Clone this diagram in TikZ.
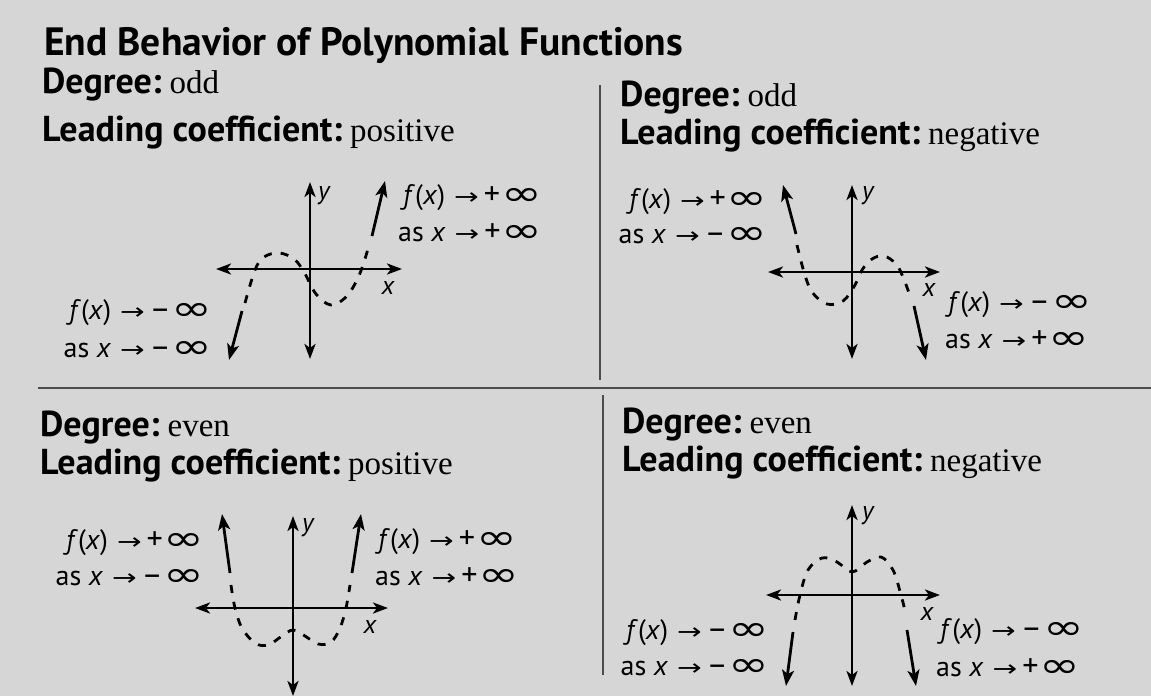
\documentclass[tikz,border=0pt]{standalone}
\usepackage{fontspec}
\setmainfont{Liberation Serif}
\setsansfont{PT Sans}
\newfontfamily\symf{DejaVu Sans}
\usetikzlibrary{arrows.meta}
\definecolor{bgc}{RGB}{214,214,214}
\newcommand\fxx{\textit{f}(\textit{x})}
\newcommand\asx{as \textit{x}}
\newcommand\arr{\hspace{9pt}{\symf\scalebox{1.05}[0.8]{→}}\hspace{5pt}}
\newcommand\infsym{\raisebox{-1pt}{\scalebox{1.75}[1.25]{\symf ∞}}}
\newcommand\pinf{\scalebox{1.15}{+}\hspace{1pt}\infsym}
\newcommand\minf{\scalebox{1.15}{–}\hspace{1pt}\infsym}
\newcommand\hdg[2]{{\sffamily\bfseries\fontsize{36}{36}\selectfont #1}\hspace{8pt}{\fontsize{33}{33}\selectfont #2}}
\begin{document}
\begin{tikzpicture}[x=1pt,y=-1pt,
  axisln/.style={line width=2.8pt,{Stealth[length=15pt,width=11pt,inset=4pt]}-{Stealth[length=15pt,width=11pt,inset=4pt]}},
  curveln/.style={line width=2.8pt,dash pattern=on 8pt off 9pt},
  endarr/.style={line width=2.8pt,-{Stealth[length=16pt,width=12pt,inset=4pt]}},
  lbl/.style={font=\sffamily\fontsize{28}{28}\selectfont,inner sep=0pt},
  axlbl/.style={font=\sffamily\itshape\fontsize{26}{26}\selectfont,inner sep=0pt},
  head/.style={anchor=base west,inner sep=0pt},
  divider/.style={line width=1.2pt,draw=black!70}]
\useasboundingbox (0,0) rectangle (1151,696);
\fill[bgc] (0,0) rectangle (1151,696);

% title and headings
\node[anchor=base west,inner sep=0pt,font=\sffamily\bfseries\fontsize{39.5}{39.5}\selectfont] (title) at (44,55) {End Behavior of Polynomial Functions};
\node[head] (h1a) at (42,93) {\hdg{Degree:}{odd}};
\node[head] (h1b) at (42,141) {\hdg{Leading coefficient:}{positive}};
\node[head] (h2a) at (620,106) {\hdg{Degree:}{odd}};
\node[head] (h2b) at (620,144) {\hdg{Leading coefficient:}{negative}};
\node[head] (h3a) at (40,436) {\hdg{Degree:}{even}};
\node[head] (h3b) at (40,474) {\hdg{Leading coefficient:}{positive}};
\node[head] (h4a) at (622,433) {\hdg{Degree:}{even}};
\node[head] (h4b) at (622,471) {\hdg{Leading coefficient:}{negative}};

% dividers
\coordinate (v1t) at (600,85); \coordinate (v1b) at (600,380);
\coordinate (hl) at (38,388); \coordinate (hr) at (1151,388);
\coordinate (v2t) at (603,395); \coordinate (v2b) at (603,675);
\draw[divider] (v1t) -- (v1b);
\draw[divider] (hl) -- (hr);
\draw[divider] (v2t) -- (v2b);

% ---------- Graph 1: odd, positive ----------
\coordinate (g1yt) at (310,182); \coordinate (g1yb) at (310,359);
\coordinate (g1xl) at (216,269); \coordinate (g1xr) at (402,269);
\draw[axisln] (g1yb) -- (g1yt);
\draw[axisln] (g1xl) -- (g1xr);
\node[axlbl,anchor=west] (g1y) at (318,196) {y};
\node[axlbl] (g1x) at (388,288) {x};
\draw[curveln] plot[smooth,tension=0.6] coordinates {(245,303) (255,270) (264,257) (279,253) (294,259) (304,272) (316,294) (331,305) (346,297) (357,280) (364,262) (369,245)};
\coordinate (g1ls) at (242,311); \coordinate (g1lt) at (229,360);
\coordinate (g1rs) at (372,236); \coordinate (g1rt) at (385,181);
\draw[endarr] (g1ls) -- (g1lt);
\draw[endarr] (g1rs) -- (g1rt);
\node[lbl,anchor=west] (g1r1) at (403,198) {\fxx\arr\pinf};
\node[lbl,anchor=west] (g1r2) at (398,233) {\asx\arr\pinf};
\node[lbl,anchor=east] (g1l1) at (213,313) {\fxx\arr\minf};
\node[lbl,anchor=east] (g1l2) at (213,350) {\asx\arr\minf};

% ---------- Graph 2: odd, negative ----------
\coordinate (g2yt) at (852,185); \coordinate (g2yb) at (852,359);
\coordinate (g2xl) at (768,272); \coordinate (g2xr) at (940,272);
\draw[axisln] (g2yb) -- (g2yt);
\draw[axisln] (g2xl) -- (g2xr);
\node[axlbl,anchor=west] (g2y) at (862,196) {y};
\node[axlbl] (g2x) at (929,290) {x};
\draw[curveln] plot[smooth,tension=0.6] coordinates {(797,245) (804,272) (812,292) (827,304) (843,301) (855,285) (862,270) (872,259) (884,256) (896,264) (903,277) (909,293)};
\coordinate (g2ls) at (796,234); \coordinate (g2lt) at (783,185);
\coordinate (g2rs) at (914,306); \coordinate (g2rt) at (926,360);
\draw[endarr] (g2ls) -- (g2lt);
\draw[endarr] (g2rs) -- (g2rt);
\node[lbl,anchor=east] (g2l1) at (768,202) {\fxx\arr\pinf};
\node[lbl,anchor=east] (g2l2) at (768,236) {\asx\arr\minf};
\node[lbl,anchor=west] (g2r1) at (948,305) {\fxx\arr\minf};
\node[lbl,anchor=west] (g2r2) at (945,340) {\asx\arr\pinf};

% ---------- Graph 3: even, positive ----------
\coordinate (g3yt) at (293,516); \coordinate (g3yb) at (293,696);
\coordinate (g3xl) at (195,608); \coordinate (g3xr) at (388,608);
\draw[axisln] (g3yb) -- (g3yt);
\draw[axisln] (g3xl) -- (g3xr);
\node[axlbl,anchor=west] (g3y) at (302,528) {y};
\node[axlbl] (g3x) at (370,627) {x};
\draw[curveln] plot[smooth,tension=0.6] coordinates {(231,585) (235,608) (242,628) (255,643) (268,645) (282,636) (293,630) (305,636) (318,644) (331,642) (340,628) (346,608) (350,585)};
\coordinate (g3ls) at (230,573); \coordinate (g3lt) at (222,514);
\coordinate (g3rs) at (352,573); \coordinate (g3rt) at (361,514);
\draw[endarr] (g3ls) -- (g3lt);
\draw[endarr] (g3rs) -- (g3rt);
\node[lbl,anchor=east] (g3l1) at (205,543) {\fxx\arr\pinf};
\node[lbl,anchor=east] (g3l2) at (205,578) {\asx\arr\minf};
\node[lbl,anchor=west] (g3r1) at (378,542) {\fxx\arr\pinf};
\node[lbl,anchor=west] (g3r2) at (375,577) {\asx\arr\pinf};

% ---------- Graph 4: even, negative ----------
\coordinate (g4yt) at (852,505); \coordinate (g4yb) at (852,686);
\coordinate (g4xl) at (766,595); \coordinate (g4xr) at (940,595);
\draw[axisln] (g4yb) -- (g4yt);
\draw[axisln] (g4xl) -- (g4xr);
\node[axlbl,anchor=west] (g4y) at (862,516) {y};
\node[axlbl] (g4x) at (927,614) {x};
\draw[curveln] plot[smooth,tension=0.6] coordinates {(795,620) (800,595) (808,570) (822,558) (837,562) (852,572) (867,562) (881,557) (893,570) (901,595) (906,615)};
\coordinate (g4ls) at (793,632); \coordinate (g4lt) at (786,686);
\coordinate (g4rs) at (907,630); \coordinate (g4rt) at (916,686);
\draw[endarr] (g4ls) -- (g4lt);
\draw[endarr] (g4rs) -- (g4rt);
\node[lbl,anchor=east] (g4l1) at (770,633) {\fxx\arr\minf};
\node[lbl,anchor=east] (g4l2) at (770,668) {\asx\arr\minf};
\node[lbl,anchor=west] (g4r1) at (940,632) {\fxx\arr\minf};
\node[lbl,anchor=west] (g4r2) at (936,668) {\asx\arr\pinf};
\end{tikzpicture}
\end{document}
